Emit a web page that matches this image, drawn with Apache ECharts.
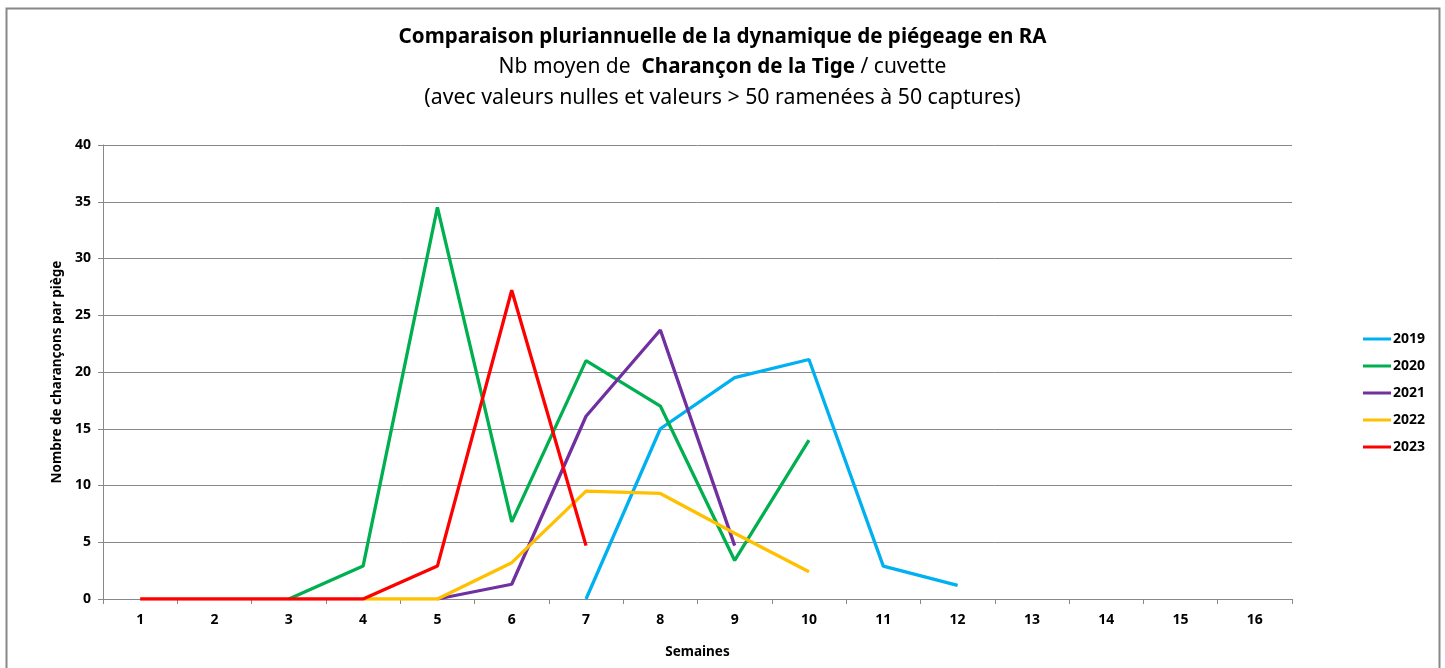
<!DOCTYPE html>
<html><head><meta charset="utf-8">
<script src="https://cdn.jsdelivr.net/npm/echarts@6/dist/echarts.min.js"></script>
<style>html,body{margin:0;padding:0;background:#fff}#c{width:1445px;height:668px}</style>
</head><body><div id="c"></div>
<script>
const weeks = ['1','2','3','4','5','6','7','8','9','10','11','12','13','14','15','16'];
const y2019 = [null,null,null,null,null,null,0,15,19.5,21.1,2.9,1.2,null,null,null,null];
const y2020 = [null,null,0,2.9,34.5,6.8,21,17,3.4,14,null,null,null,null,null,null];
const y2021 = [null,null,null,null,0,1.3,16.1,23.7,4.7,null,null,null,null,null,null,null];
const y2022 = [null,null,null,0,0,3.2,9.5,9.3,5.8,2.4,null,null,null,null,null,null];
const y2023 = [0,0,0,0,2.9,27.2,4.7,null,null,null,null,null,null,null,null,null];
const seriesNames = ['2019','2020','2021','2022','2023'];
const seriesData = [y2019,y2020,y2021,y2022,y2023];
const colors = ['#00B0F0','#00B050','#7030A0','#FFC000','#FF0000'];

const FF = '"Noto Sans", sans-serif';
const chart = echarts.init(document.getElementById('c'));
chart.setOption({
  animation:false,
  color: colors,
  graphic:[{type:'rect',shape:{x:6.5,y:8.5,width:1433,height:700},style:{fill:'none',stroke:'#888',lineWidth:2},silent:true}],
  title:[
    {text:'Comparaison pluriannuelle de la dynamique de piégeage en RA',left:'center',top:22,
     textStyle:{fontFamily:FF,fontSize:20.6,fontWeight:'bold',color:'#000'}},
    {text:'{n|Nb moyen de  }{b|Charançon de la Tige}{n| / cuvette}',left:'center',top:52,
     textStyle:{rich:{n:{fontFamily:FF,fontSize:21,fontWeight:'normal',color:'#000'},b:{fontFamily:FF,fontSize:20.6,fontWeight:'bold',color:'#000'}}}},
    {text:'(avec valeurs nulles et valeurs > 50 ramenées à 50 captures)',left:'center',top:82,
     textStyle:{fontFamily:FF,fontSize:21.3,fontWeight:'normal',color:'#000'}}
  ],
  legend:{orient:'vertical',left:1358,top:327,itemWidth:28,itemHeight:3,itemGap:13,icon:'rect',
    textStyle:{fontFamily:FF,fontSize:14,fontWeight:'bold',color:'#000',padding:[0,0,0,-3]},
    data:seriesNames},
  grid:{left:103,right:153,top:145,bottom:69},
  xAxis:{type:'category',data:weeks,boundaryGap:true,
    name:'Semaines',nameLocation:'middle',nameGap:46,
    nameTextStyle:{fontFamily:FF,fontSize:13.5,fontWeight:'bold',color:'#000'},
    axisLine:{lineStyle:{color:'#888',width:1}},
    axisTick:{show:true,alignWithLabel:false,length:5,lineStyle:{color:'#888'}},
    axisLabel:{fontFamily:FF,fontSize:14,fontWeight:'bold',color:'#000',margin:14}},
  yAxis:{type:'value',min:0,max:40,interval:5,
    name:'Nombre de charançons par piège',nameLocation:'middle',nameGap:37,nameRotate:90,
    nameTextStyle:{fontFamily:FF,fontSize:13.5,fontWeight:'bold',color:'#000'},
    axisLine:{show:true,lineStyle:{color:'#888',width:1}},
    axisTick:{show:true,length:5,lineStyle:{color:'#888'}},
    splitLine:{lineStyle:{color:'#888',width:1}},
    axisLabel:{fontFamily:FF,fontSize:14,fontWeight:'bold',color:'#000',margin:12}},
  series: seriesNames.map((n,i)=>({name:n,type:'line',data:seriesData[i],symbol:'none',
    lineStyle:{width:3.3,color:colors[i]},itemStyle:{color:colors[i]},connectNulls:false,z:2+i}))
});
</script></body></html>
